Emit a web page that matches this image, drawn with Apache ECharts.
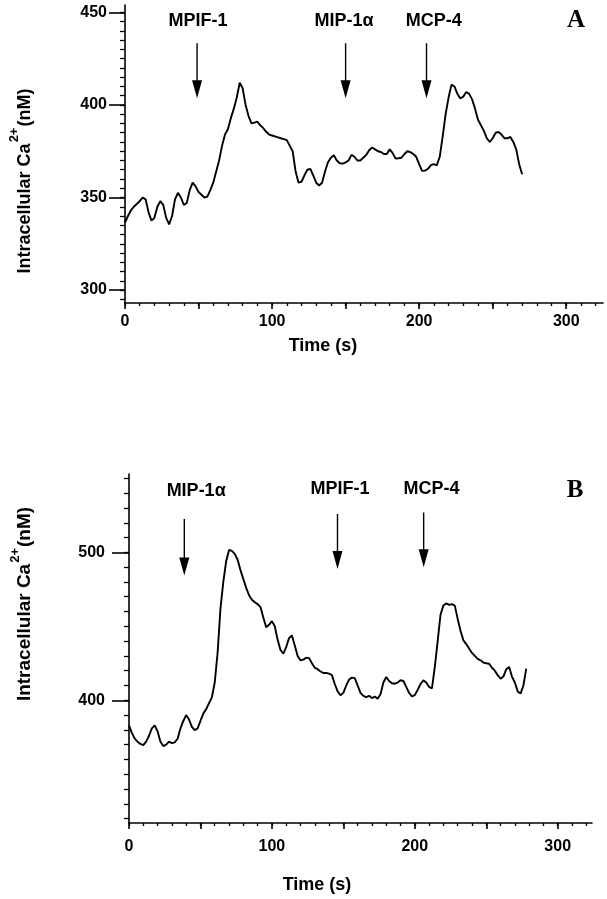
<!DOCTYPE html>
<html>
<head>
<meta charset="utf-8">
<script src="https://cdn.jsdelivr.net/npm/echarts@6/dist/echarts.min.js"></script>
<style>html,body{margin:0;padding:0;background:#fff}#c{width:607px;height:899px}</style>
</head>
<body>
<div id="c"></div>
<script>
// ---------- Panel A data ----------
const aTime = [0,2,4,6,8,10,12,14,16,18,20,22,24,26,28,30,32,34,36,38,40,42,44,46,48,50,52,54,56,58,60,62,64,66,68,70,72,74,76,78,80,82,84,86,88,90,92,94,96,98,100,102,104,106,108,110,112,114,116,118,120,122,124,126,128,130,132,134,136,138,140,142,144,146,148,150,152,154,156,158,160,162,164,166,168,170,172,174,176,178,180,182,184,186,188,190,192,194,196,198,200,202,204,206,208,210,212,214,216,218,220,222,224,226,228,230,232,234,236,238,240,242,244,246,248,250,252,254,256,258,260,262,264,266,268,270];
const aCa = [336.5,340,343,345,346.5,348,350,349,342,337.5,339,345,348,346,339,335.5,340,349,352.5,350,346,347,354,358,356,353,351.5,350,350.5,354,358,364,370,378,384,387,393,398,404,412,409,400,394,390,390.5,391,389,387.5,385.5,384,383.5,383,382.5,382,381.5,381,378,375,364,358,358.5,362,365,365.5,362,358,356.5,358,364,369,371.5,372.8,370,368.5,368.3,369,370,373,372,370,370,371.5,373,375.5,377,376,375,374.6,373.5,373.5,376,374,371,371.2,371.5,373.5,375,374.5,373.5,372,368,364.4,364.5,365.5,367.5,368,367.4,372,383,395,404,411,410,406,403.5,404.5,407,406,403,398,392,389,386,382,380,382,385,385.4,384,382,382,382.7,380,376,368,362.5];
const aLabels = ['MPIF-1', 'MIP-1α', 'MCP-4'];
const aLabelT = [49.7, 149, 210];
const aLabelV = [445.5, 445.5, 445.5];
const aArrowT = [49, 150, 205];
const aArrowTop = [433.3, 433.3, 433.3];
const aArrowTip = [403.6, 403.6, 403.6];
const aYTicks = [300, 350, 400, 450];

// ---------- Panel B data ----------
const bTime = [0,2,4,6,8,10,12,14,16,18,20,22,24,26,28,30,32,34,36,38,40,42,44,46,48,50,52,54,56,58,60,62,64,66,68,70,72,74,76,78,80,82,84,86,88,90,92,94,96,98,100,102,104,106,108,110,112,114,116,118,120,122,124,126,128,130,132,134,136,138,140,142,144,146,148,150,152,154,156,158,160,162,164,166,168,170,172,174,176,178,180,182,184,186,188,190,192,194,196,198,200,202,204,206,208,210,212,214,216,218,220,222,224,226,228,230,232,234,236,238,240,242,244,246,248,250,252,254,256,258,260,262,264,266,268,270,272,274,276,278];
const bCa = [383,378,374,372,370.5,369.7,372,376,381,383,379,372,369,370,372,371,371.5,374,381,386,390,387,382,379.8,381,386,391,394,398,402,412,432,462,480,494,501.6,501,499,495,488,482,476,471,468,466.3,465,463,456,449.4,451,453.5,450,441,434,431.5,436,442,443.8,437,430,427,427.5,428.8,428.5,425,422,421,419.5,418.4,418.5,418,417,411,406,403.4,405,410,414,415.3,415,410,405,403,402.2,403,401.5,402.5,401,404,412,415.7,413,411.5,411.2,412,413.5,413,409,405,402.7,403.5,407,411,413.5,412,409,408,422.5,440,458,464,465.5,464.5,465,464,455,447,440.5,438,435,432,430,428,427,425.5,425,424.7,422,420,417,414.6,416,421,422.5,416,412,406,404.5,410,421.4];
const bLabels = ['MIP-1α', 'MPIF-1', 'MCP-4'];
const bLabelT = [47, 147.7, 211.7];
const bLabelV = [541.6, 542.7, 543];
const bArrowT = [38.7, 145.9, 206.2];
const bArrowTop = [522.5, 525.9, 527];
const bArrowTip = [484.3, 488.8, 489.9];
const bYTicks = [400, 500];

const xMajorLabels = [0, 100, 200, 300];

// ---------- helpers ----------
const FONT = "'Liberation Sans', Arial, Helvetica, sans-serif";
const range = (a, b, s) => { const r = []; for (let v = a; v <= b + 1e-9; v += s) r.push(v); return r; };
const zip = (xs, ys) => xs.map((x, i) => [x, ys[i]]);

const chart = echarts.init(document.getElementById('c'), null, {renderer: 'canvas'});

function xAxes(gridIndex, max, labelMargin) {
  return [
    {
      type: 'value', gridIndex, position: 'bottom', min: 0, max,
      axisLine: {show: true, lineStyle: {color: '#000', width: 1.6}},
      axisTick: {show: true, inside: false, length: 6, lineStyle: {color: '#000', width: 1.6}, customValues: range(0, 300, 50)},
      axisLabel: {show: true, margin: labelMargin, color: '#000', fontSize: 16, fontWeight: 'bold', fontFamily: FONT, customValues: xMajorLabels},
      splitLine: {show: false}
    },
    {
      type: 'value', gridIndex, position: 'bottom', min: 0, max,
      axisLine: {show: false},
      axisTick: {show: true, inside: false, length: 3, lineStyle: {color: '#000', width: 1.3}, customValues: range(0, 320, 10)},
      axisLabel: {show: false},
      splitLine: {show: false}
    }
  ];
}
function yAxes(gridIndex, min, max, majors, minorStep, minorFrom, minorTo, majorLen, labelMargin) {
  return [
    {
      type: 'value', gridIndex, position: 'left', min, max,
      axisLine: {show: true, lineStyle: {color: '#000', width: 1.6}},
      axisTick: {show: true, inside: false, length: majorLen, lineStyle: {color: '#000', width: 1.6}, customValues: majors},
      axisLabel: {show: true, margin: labelMargin, color: '#000', fontSize: 16, fontWeight: 'bold', fontFamily: FONT, customValues: majors},
      splitLine: {show: false}
    },
    {
      type: 'value', gridIndex, position: 'left', min, max,
      axisLine: {show: false},
      axisTick: {show: true, inside: false, length: 5, lineStyle: {color: '#000', width: 1.3}, customValues: range(minorFrom, minorTo, minorStep)},
      axisLabel: {show: false},
      splitLine: {show: false}
    }
  ];
}

function panelSeries(xi, yi, time, ca, labels, lt, lv, at, atop, atip) {
  const shaft = [];
  at.forEach((t, i) => { shaft.push([t, atop[i]], [t, atip[i] + 4], null); });
  return [
    {
      type: 'line', xAxisIndex: xi, yAxisIndex: yi, data: zip(time, ca),
      showSymbol: false, symbol: 'none', smooth: false,
      lineStyle: {color: '#000', width: 1.9}, z: 3, silent: true
    },
    {
      type: 'line', xAxisIndex: xi, yAxisIndex: yi, data: shaft, connectNulls: false,
      showSymbol: false, symbol: 'none', lineStyle: {color: '#000', width: 1.4}, z: 4, silent: true
    },
    {
      type: 'scatter', xAxisIndex: xi, yAxisIndex: yi, data: zip(at, atip),
      symbol: 'triangle', symbolSize: [10, 18], symbolRotate: 180, symbolOffset: [0, -9],
      itemStyle: {color: '#000', opacity: 1}, z: 5, silent: true
    },
    {
      type: 'scatter', xAxisIndex: xi, yAxisIndex: yi,
      data: labels.map((n, i) => ({name: n, value: [lt[i], lv[i]]})),
      symbolSize: 0, z: 6, silent: true, itemStyle: {color: '#000', opacity: 1},
      label: {show: true, position: 'inside', formatter: p => p.name, color: '#000', opacity: 1,
        textBorderWidth: 0, textBorderColor: 'transparent',
        fontSize: 18, fontWeight: 'bold', fontFamily: FONT}
    }
  ];
}

const yNameRich = (size) => ({
  m: {fontSize: size, fontWeight: 'bold', fontFamily: FONT, fill: '#000', lineHeight: size, verticalAlign: 'bottom'},
  s: {fontSize: 13, fontWeight: 'bold', fontFamily: FONT, fill: '#000', lineHeight: 13, verticalAlign: 'bottom', padding: [0, 1, 13, 1]}
});

const option = {
  animation: false,
  backgroundColor: '#fff',
  grid: [
    {left: 125, top: 5, width: 478, height: 298, containLabel: false},
    {left: 129, top: 474, width: 463, height: 349, containLabel: false}
  ],
  xAxis: [...xAxes(0, 325, 11), ...xAxes(1, 324, 16)],
  yAxis: [
    ...yAxes(0, 293, 454, aYTicks, 5, 295, 450, 16, 18),
    ...yAxes(1, 317, 553, bYTicks, 10, 320, 550, 17, 24)
  ],
  series: [
    ...panelSeries(0, 0, aTime, aCa, aLabels, aLabelT, aLabelV, aArrowT, aArrowTop, aArrowTip),
    ...panelSeries(2, 2, bTime, bCa, bLabels, bLabelT, bLabelV, bArrowT, bArrowTop, bArrowTip)
  ],
  graphic: [
    {type: 'text', x: 25, y: 181, rotation: Math.PI / 2,
      style: {text: '{m|Intracellular Ca}{s|2+}{m|(nM)}', rich: yNameRich(18), align: 'center', verticalAlign: 'middle'}},
    {type: 'text', x: 25, y: 604, rotation: Math.PI / 2,
      style: {text: '{m|Intracellular Ca}{s|2+}{m|(nM)}', rich: yNameRich(19), align: 'center', verticalAlign: 'middle'}},
    {type: 'text', x: 323, y: 346,
      style: {text: 'Time (s)', font: "bold 18px " + FONT, fill: '#000', align: 'center', verticalAlign: 'middle'}},
    {type: 'text', x: 317, y: 885,
      style: {text: 'Time (s)', font: "bold 18px " + FONT, fill: '#000', align: 'center', verticalAlign: 'middle'}},
    {type: 'text', x: 576, y: 21,
      style: {text: 'A', font: "bold 25px 'Liberation Serif', 'Times New Roman', serif", fill: '#000', align: 'center', verticalAlign: 'middle'}},
    {type: 'text', x: 575, y: 491,
      style: {text: 'B', font: "bold 25px 'Liberation Serif', 'Times New Roman', serif", fill: '#000', align: 'center', verticalAlign: 'middle'}}
  ]
};
chart.setOption(option);
</script>
</body>
</html>
